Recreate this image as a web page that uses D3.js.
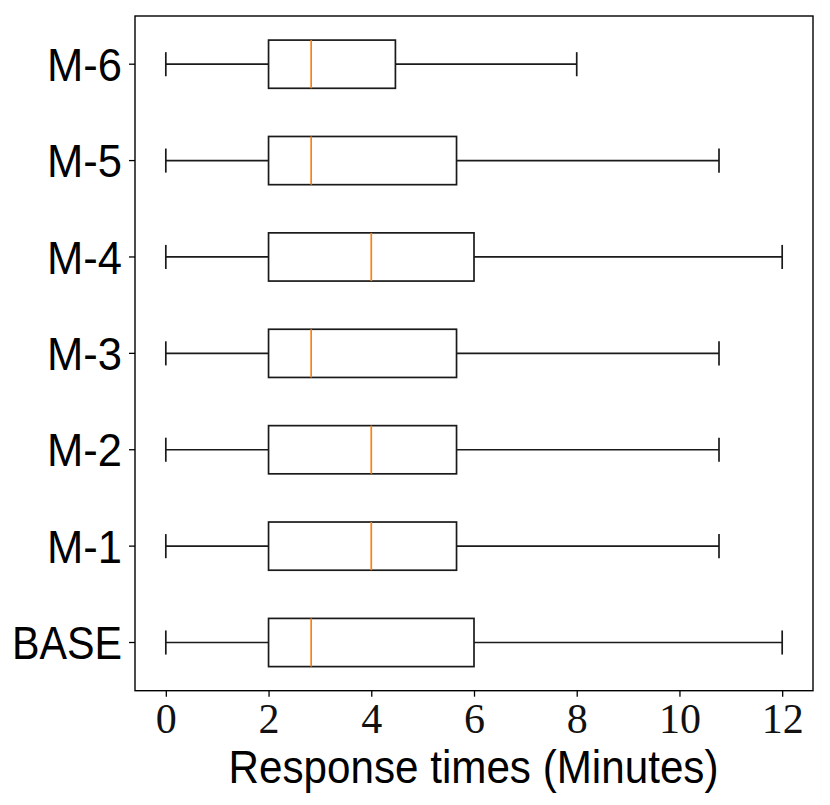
<!DOCTYPE html>
<html>
<head>
<meta charset="utf-8">
<script src="https://cdn.jsdelivr.net/npm/d3@7"></script>
<style>
  html, body { margin: 0; padding: 0; background: #fff; }
  svg { display: block; }
</style>
</head>
<body>
<svg id="chart" width="830" height="805"></svg>
<script>
// ---- data ----
const categories  = ["M-6", "M-5", "M-4", "M-3", "M-2", "M-1", "BASE"];
const whiskerLow  = [0, 0, 0, 0, 0, 0, 0];
const q1          = [2, 2, 2, 2, 2, 2, 2];
const medians     = [2.83, 2.83, 4, 2.83, 4, 4, 2.83];
const q3          = [4.47, 5.66, 6, 5.66, 5.66, 5.66, 6];
const whiskerHigh = [8, 10.77, 12, 10.77, 10.77, 10.77, 12];
const xTicks      = [0, 2, 4, 6, 8, 10, 12];
const xLabel      = "Response times (Minutes)";

const rows = categories.map((c, i) => ({
  cat: c, lo: whiskerLow[i], q1: q1[i], med: medians[i], q3: q3[i], hi: whiskerHigh[i]
}));

// ---- layout ----
const svg = d3.select("#chart");
const L = 135, R = 813, T = 16, B = 690.7;
const SW = 1.7;

const x = d3.scaleLinear().domain([-0.6, 12.6]).range([L, R]);
const y = d3.scaleBand().domain(categories).range([T, B]).paddingInner(0).paddingOuter(0);
const bw = y.bandwidth();
const boxH = bw * 0.5;
const capH = bw * 0.25;
const cy = d => y(d) + bw / 2;

const g = svg.append("g");

// whiskers
g.selectAll(".wl").data(rows).join("line")
  .attr("x1", d => x(d.lo)).attr("x2", d => x(d.q1))
  .attr("y1", d => cy(d.cat)).attr("y2", d => cy(d.cat))
  .attr("stroke", "#1a1a1a").attr("stroke-width", SW);
g.selectAll(".wh").data(rows).join("line")
  .attr("x1", d => x(d.q3)).attr("x2", d => x(d.hi))
  .attr("y1", d => cy(d.cat)).attr("y2", d => cy(d.cat))
  .attr("stroke", "#1a1a1a").attr("stroke-width", SW);
// caps
g.selectAll(".cl").data(rows).join("line")
  .attr("x1", d => x(d.lo)).attr("x2", d => x(d.lo))
  .attr("y1", d => cy(d.cat) - capH / 2).attr("y2", d => cy(d.cat) + capH / 2)
  .attr("stroke", "#1a1a1a").attr("stroke-width", SW);
g.selectAll(".ch").data(rows).join("line")
  .attr("x1", d => x(d.hi)).attr("x2", d => x(d.hi))
  .attr("y1", d => cy(d.cat) - capH / 2).attr("y2", d => cy(d.cat) + capH / 2)
  .attr("stroke", "#1a1a1a").attr("stroke-width", SW);
// boxes
g.selectAll(".box").data(rows).join("rect")
  .attr("x", d => x(d.q1)).attr("width", d => x(d.q3) - x(d.q1))
  .attr("y", d => cy(d.cat) - boxH / 2).attr("height", boxH)
  .attr("fill", "none").attr("stroke", "#1a1a1a").attr("stroke-width", SW);
// medians
g.selectAll(".med").data(rows).join("line")
  .attr("x1", d => x(d.med)).attr("x2", d => x(d.med))
  .attr("y1", d => cy(d.cat) - boxH / 2).attr("y2", d => cy(d.cat) + boxH / 2)
  .attr("stroke", "#ff7f0e").attr("stroke-width", SW);

// frame
svg.append("rect")
  .attr("x", L).attr("y", T).attr("width", R - L).attr("height", B - T)
  .attr("fill", "none").attr("stroke", "#000").attr("stroke-width", 1.4);

// x axis
const xAxis = svg.append("g").attr("transform", `translate(0,${B})`)
  .call(d3.axisBottom(x).tickValues(xTicks).tickSize(6).tickPadding(10).tickFormat(d3.format("d")));
xAxis.select(".domain").remove();
xAxis.selectAll(".tick line").attr("stroke", "#000").attr("stroke-width", 1.3);
xAxis.selectAll(".tick text")
  .attr("font-family", "'Liberation Serif', 'DejaVu Serif', serif")
  .attr("font-size", 42).attr("fill", "#111")
  .attr("dy", null).attr("y", 42);

// y axis
const yAxis = svg.append("g").attr("transform", `translate(${L},0)`)
  .call(d3.axisLeft(y).tickSize(6).tickPadding(7));
yAxis.select(".domain").remove();
yAxis.selectAll(".tick line").attr("stroke", "#000").attr("stroke-width", 1.3);
yAxis.selectAll(".tick text")
  .attr("font-family", "'Liberation Sans', Arial, sans-serif")
  .attr("font-size", 46).attr("fill", "#000")
  .attr("dy", "0.36em")
  .attr("textLength", d => d === "BASE" ? 110 : 75)
  .attr("lengthAdjust", "spacingAndGlyphs");

// x label
svg.append("text")
  .attr("x", (L + R) / 2 - 0.5).attr("y", 783)
  .attr("text-anchor", "middle")
  .attr("font-family", "'Liberation Sans', Arial, sans-serif")
  .attr("font-size", 46).attr("fill", "#000")
  .attr("textLength", 490).attr("lengthAdjust", "spacingAndGlyphs")
  .text(xLabel);
</script>
</body>
</html>
